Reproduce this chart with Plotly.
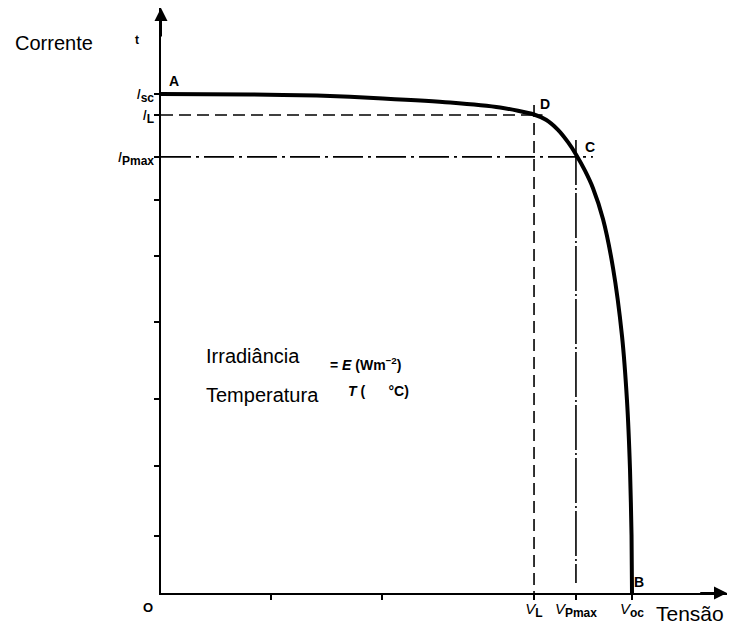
import plotly.graph_objects as go

# I-V curve (normalised: V/Voc, I/Isc)
voltage = [0.0, 0.189, 0.331, 0.471, 0.614, 0.720, 0.7919, 0.8174, 0.8429, 0.8641,
           0.8811, 0.9002, 0.9172, 0.9384, 0.9597, 0.9788, 0.9894, 0.9958, 0.9990, 1.0]
current = [1.0, 0.999, 0.997, 0.991, 0.983, 0.973, 0.9589, 0.9483, 0.9281, 0.9034,
           0.8788, 0.8463, 0.8112, 0.7495, 0.6513, 0.5150, 0.3848, 0.2465, 0.1162, 0.0]

# characteristic points
V_L, I_L = 0.792, 0.958
V_PMAX, I_PMAX = 0.881, 0.874
V_OC, I_SC = 1.0, 1.0

# unlabeled ticks
y_minor_ticks = [0.788, 0.675, 0.543, 0.389, 0.255, 0.114]
x_minor_ticks = [0.2335, 0.469]

SUBY = "<sub><b><span style='font-size:12px'>{}</span></b></sub>"
y_tick_vals = [I_SC, I_L, I_PMAX] + y_minor_ticks
y_tick_text = ["<i>I</i>" + SUBY.format("sc"), "<i>I</i>" + SUBY.format("L"),
               "<i>I</i>" + SUBY.format("Pmax")] + [""] * len(y_minor_ticks)
x_tick_vals = x_minor_ticks + [V_L, V_PMAX, V_OC]
x_tick_text = ["", "", "<i>V</i>" + SUBY.format("L"), "<i>V</i>" + SUBY.format("Pmax"),
               "<i>V</i>" + SUBY.format("oc")]

X_MAX = 1.2017
Y_MAX = 1.1723

fig = go.Figure()

# reference lines
fig.add_trace(go.Scatter(x=[0, 0.81], y=[I_L, I_L], mode="lines",
                         line=dict(color="black", width=1.6, dash="12px,6px"), hoverinfo="skip"))
fig.add_trace(go.Scatter(x=[V_L, V_L], y=[0.978, 0], mode="lines",
                         line=dict(color="black", width=1.6, dash="12px,6px"), hoverinfo="skip"))
fig.add_trace(go.Scatter(x=[0, 0.917], y=[I_PMAX, I_PMAX], mode="lines",
                         line=dict(color="black", width=1.6, dash="30px,5px,3px,5px"), hoverinfo="skip"))
fig.add_trace(go.Scatter(x=[V_PMAX, V_PMAX], y=[0.908, 0.02], mode="lines",
                         line=dict(color="black", width=1.6, dash="45px,3px,2px,3px"), hoverinfo="skip"))

# I-V curve
fig.add_trace(go.Scatter(x=voltage, y=current, mode="lines",
                         line=dict(color="black", width=4, shape="spline", smoothing=0.6),
                         hoverinfo="skip"))

# pixel -> paper helpers (plot area spans x 161..727, y 8..593)
px = lambda p: (p - 161) / 566
py = lambda p: (593 - p) / 585

ann = []
def txt(x, y, s, size=13, xanchor="center", bg=None):
    d = dict(x=px(x), y=py(y), text=s, showarrow=False, xref="paper", yref="paper",
             xanchor=xanchor, yanchor="middle",
             font=dict(family="Liberation Sans, Arial", size=size, color="black"))
    if bg:
        d["bgcolor"] = bg
    ann.append(d)

txt(13, 43, "Corrente", size=20, xanchor="left")
txt(137, 40, "<b>t</b>", size=12)
txt(174, 81, "<b>A</b>", size=14)
txt(545, 104, "<b>D</b>", size=14)
txt(590, 147, "<b>C</b>", size=14)
txt(639, 582, "<b>B</b>", size=14)
txt(148, 607, "<b>O</b>", size=13)
txt(654, 613, "Tensão", size=21, xanchor="left")
txt(204, 356, "Irradiância", size=20, xanchor="left")
txt(328, 364, "<b>=</b> <i><b>E</b></i> <b>(Wm<sup>−2</sup>)</b>", size=14, xanchor="left")
txt(204, 395, "Temperatura", size=20, xanchor="left")
txt(346, 391, "<i><b>T</b></i> <b>(      °C)</b>", size=14, xanchor="left")

# axis arrowheads
ann.append(dict(x=0, y=Y_MAX, ax=0, ay=Y_MAX - 0.06, xref="x", yref="y", axref="x", ayref="y",
                showarrow=True, arrowhead=2, arrowsize=1.3, arrowwidth=2, arrowcolor="black", text=""))
ann.append(dict(x=X_MAX, y=0, ax=X_MAX - 0.06, ay=0, xref="x", yref="y", axref="x", ayref="y",
                showarrow=True, arrowhead=2, arrowsize=1.3, arrowwidth=2, arrowcolor="black", text=""))

fig.update_layout(
    width=731, height=632,
    margin=dict(l=161, r=4, t=8, b=39),
    paper_bgcolor="white", plot_bgcolor="white",
    showlegend=False,
    annotations=ann,
    font=dict(family="Liberation Sans, Arial", size=15, color="black"),
    xaxis=dict(range=[0, X_MAX], showgrid=False, zeroline=False, showline=True,
               linecolor="black", linewidth=2, ticks="outside", ticklen=5, tickwidth=2,
               tickcolor="black", tickvals=x_tick_vals, ticktext=x_tick_text,
               tickfont=dict(size=15), ticklabelstandoff=-4),
    yaxis=dict(range=[0, Y_MAX], showgrid=False, zeroline=False, showline=True,
               linecolor="black", linewidth=2, ticks="outside", ticklen=5, tickwidth=2,
               tickcolor="black", tickvals=y_tick_vals, ticktext=y_tick_text,
               tickfont=dict(size=15), ticklabelstandoff=-3),
)

fig.write_html("out.html")
